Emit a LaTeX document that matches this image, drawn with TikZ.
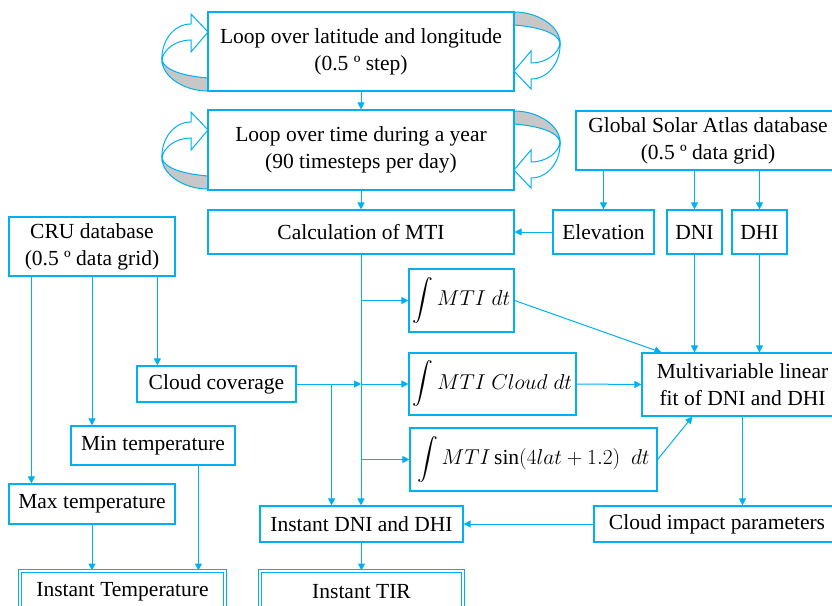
\documentclass[tikz,border=0pt]{standalone}
\usepackage{fix-cm}
\usepackage{exscale}
\usepackage{fontspec}
\setmainfont{Liberation Serif}
\usetikzlibrary{arrows.meta,calc}
\definecolor{lb}{RGB}{0,176,240}
\tikzset{
 bx/.style={draw=lb, line width=1.2pt, fill=white, inner sep=0pt, align=center,
   font=\fontsize{21.5}{27}\selectfont},
 dbx/.style={bx, double=white, double distance=1.6pt, line width=1pt},
 con/.style={draw=lb, line width=1pt, -{Triangle[length=7pt,width=7pt]}},
 loopw/.style={draw=lb, line width=1pt, fill=white, line join=miter},
 loopg/.style={draw=lb, line width=1pt, fill=black!22},
}
\newcommand{\loopshape}{%
  \path[loopg] (0,66) .. controls (-25,64) and (-44,58) .. (-46,48)
     .. controls (-46,64) and (-25,79) .. (0,79) -- cycle;
  \path[loopw] (0,20) -- (-17,2) -- (-17,12) .. controls (-35,12) and (-47,30) .. (-46,48)
     .. controls (-45,38) and (-33,28) .. (-17,28) -- (-17,40) -- cycle;
}
\begin{document}
\begin{tikzpicture}[x=1pt,y=-1pt]
\useasboundingbox (0,0) rectangle (832,605);
\clip (0,0) rectangle (832,605);

% loop arrows (drawn behind boxes)
\coordinate (latnw) at (208,12);
\coordinate (latse) at (514,91);
\coordinate (timenw) at (208,110);
\coordinate (timese) at (514,190);
\begin{scope}[shift={(latnw)}] \loopshape \end{scope}
\begin{scope}[shift={(latse)}, rotate=180] \loopshape \end{scope}
\begin{scope}[shift={(timenw)}] \loopshape \end{scope}
\begin{scope}[shift={(timese)}, rotate=180] \loopshape \end{scope}

% boxes
\node[bx, minimum width=306pt, minimum height=79pt] (lat) at (361,51.5)
  {Loop over latitude and longitude\\(0.5 º step)};
\node[bx, minimum width=306pt, minimum height=80pt] (time) at (361,150)
  {Loop over time during a year\\(90 timesteps per day)};
\node[bx, minimum width=264pt, minimum height=59pt] (gsa) at (708,140.5)
  {Global Solar Atlas database\\(0.5 º data grid)};
\node[bx, minimum width=306pt, minimum height=44pt] (calc) at (361,232) {Calculation of MTI};
\node[bx, minimum width=101pt, minimum height=44pt] (elev) at (603.5,232) {Elevation};
\node[bx, minimum width=55pt, minimum height=44pt] (dni) at (694.5,232) {DNI};
\node[bx, minimum width=55pt, minimum height=44pt] (dhi) at (759.5,232) {DHI};
\node[bx, minimum width=166pt, minimum height=59pt] (cru) at (92,246.5)
  {CRU database\\(0.5 º data grid)};
\node[bx, minimum width=159pt, minimum height=36pt] (cloud) at (216.5,384) {Cloud coverage};
\node[bx, minimum width=164pt, minimum height=39pt] (min) at (153,445.5) {Min temperature};
\node[bx, minimum width=166pt, minimum height=40pt] (max) at (92,504) {Max temperature};
\node[bx, minimum width=105pt, minimum height=63pt] (i1) at (461.5,300.5)
  {$\displaystyle\int MTI\;dt$};
\node[bx, minimum width=167pt, minimum height=62pt] (i2) at (492.5,384)
  {$\displaystyle\int MTI\ Cloud\;dt$};
\node[bx, minimum width=247pt, minimum height=63pt] (i3) at (533.5,459.5)
  {$\displaystyle\int MTI\sin(4lat+1.2)\ \ dt$};
\node[bx, minimum width=201pt, minimum height=63pt] (mv) at (742.5,384.5)
  {Multivariable linear\\fit of DNI and DHI};
\node[bx, minimum width=246pt, minimum height=36pt] (cip) at (717,524) {Cloud impact parameters};
\node[bx, minimum width=203pt, minimum height=36pt] (idni) at (361.5,524) {Instant DNI and DHI};
\node[dbx, minimum width=205pt, minimum height=42pt] (itemp) at (122.5,592) {Instant Temperature};
\node[dbx, minimum width=203pt, minimum height=42pt] (itir) at (361.5,592) {Instant TIR};

% connectors
\draw[con] (lat.south) -- (time.north);
\draw[con] (time.south) -- (calc.north);
\draw[con] (elev |- gsa.south) -- (elev.north);
\draw[con] (dni |- gsa.south) -- (dni.north);
\draw[con] (dhi |- gsa.south) -- (dhi.north);
\draw[con] (elev.west) -- (calc.east);
\draw[con] (dni.south) -- (dni.south |- mv.north);
\draw[con] (dhi.south) -- (dhi.south |- mv.north);
\draw[con] (calc.south) -- (calc.south |- idni.north);
\draw[con] (calc.south |- i1.west) -- (i1.west);
\draw[con] (calc.south |- i2.west) -- (i2.west);
\draw[con] (calc.south |- i3.west) -- (i3.west);
\draw[con] (cloud.east) -- (calc.south |- cloud.east);
\coordinate (cb) at ($(cloud.east)+(35,0)$);
\draw[con] (cb) -- (cb |- idni.north);
\draw[con] (i1.east) -- ($(mv.north west)+(20,0)$);
\draw[con] (i2.east) -- (mv.west);
\draw[con] (i3.east) -- ($(mv.south west)+(51,0)$);
\draw[con] (mv.south) -- (mv.south |- cip.north);
\draw[con] (cip.west) -- (idni.east);
\draw[con] (idni.south) -- (itir.north);
\coordinate (c1) at ($(cru.south west)+(23,0)$);
\coordinate (c3) at ($(cru.south west)+(149,0)$);
\draw[con] (c1) -- (c1 |- max.north);
\draw[con] (cru.south) -- (cru.south |- min.north);
\draw[con] (c3) -- (c3 |- cloud.north);
\draw[con] (max.south) -- (max.south |- itemp.north);
\coordinate (m1) at ($(min.south west)+(128,0)$);
\draw[con] (m1) -- (m1 |- itemp.north);
\end{tikzpicture}
\end{document}
